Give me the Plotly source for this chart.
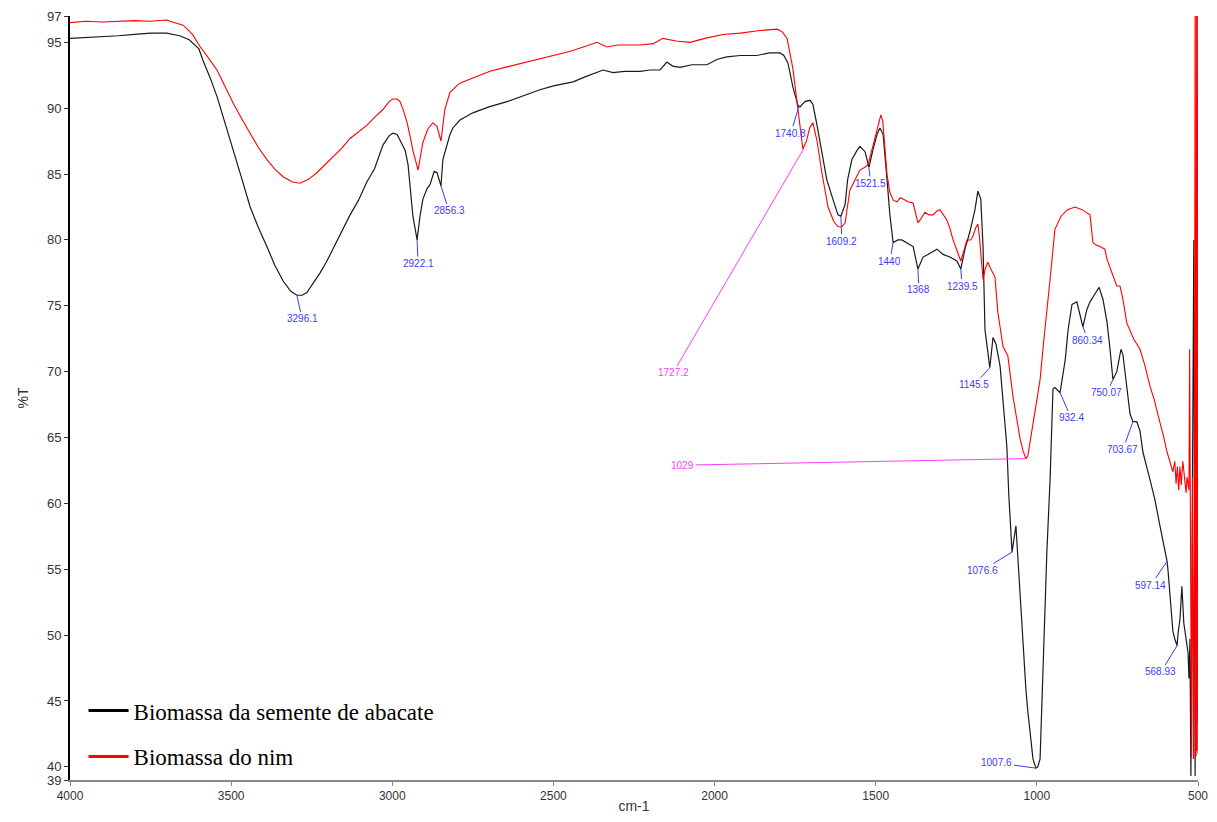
import plotly.graph_objects as go

# FTIR spectra: wavenumber (cm-1) and transmittance (%T)
abacate_wn = [4000, 3950, 3900, 3850, 3800, 3750, 3700, 3660, 3630, 3600, 3587, 3565, 3544, 3520,
              3494, 3470, 3441, 3415, 3389, 3365, 3339, 3315, 3296, 3280, 3265, 3245, 3224, 3205,
              3184, 3160, 3131, 3105, 3079, 3055, 3029, 3010, 2998, 2985, 2976, 2960, 2951, 2945,
              2936, 2923, 2914, 2905, 2892, 2883, 2870, 2861, 2852, 2849, 2843, 2830, 2821, 2812,
              2790, 2750, 2700, 2644, 2600, 2542, 2500, 2439, 2400, 2346, 2315, 2280, 2231, 2200,
              2169, 2148, 2130, 2107, 2070, 2024, 1993, 1962, 1920, 1869, 1830, 1797, 1785, 1772,
              1757, 1741, 1735, 1720, 1704, 1695, 1682, 1667, 1652, 1633, 1617, 1608, 1595, 1587,
              1574, 1558, 1549, 1533, 1521, 1509, 1496, 1487, 1477, 1465, 1456, 1446, 1431, 1419,
              1400, 1384, 1369, 1353, 1338, 1310, 1291, 1270, 1248, 1236, 1223, 1208, 1192, 1183,
              1174, 1167, 1161, 1155, 1146, 1136, 1127, 1114, 1102, 1093, 1087, 1077, 1065, 1059,
              1052, 1043, 1034, 1028, 1018, 1012, 1003, 997, 990, 984, 981, 975, 969, 959, 950, 944,
              928, 912, 903, 891, 876, 866, 857, 845, 835, 820, 807, 795, 782, 773, 764, 752, 739,
              733, 720, 711, 702, 690, 680, 671, 649, 634, 618, 606, 596, 593, 587, 578, 572, 565,
              562, 556, 550, 544, 537, 531, 528, 525, 522, 513, 509, 503, 500]
abacate_t = [95.3, 95.35, 95.4, 95.5, 95.6, 95.7, 95.7, 95.5, 95.2, 94.5, 93.6, 92.3, 90.9, 89.0,
             86.9, 84.9, 82.5, 80.9, 79.5, 78.1, 76.9, 76.1, 75.8, 75.8, 76.0, 76.7, 77.5, 78.3,
             79.3, 80.5, 81.9, 83.0, 84.4, 85.4, 87.2, 87.9, 88.1, 88.0, 87.6, 86.8, 85.7, 84.3,
             81.8, 80.0, 81.8, 83.1, 83.9, 84.2, 85.2, 85.1, 84.2, 84.1, 86.1, 87.2, 88.0, 88.5,
             89.1, 89.65, 90.1, 90.5, 90.9, 91.4, 91.7, 92.0, 92.4, 92.9, 92.7, 92.8, 92.8, 92.9,
             92.9, 93.5, 93.2, 93.1, 93.3, 93.3, 93.7, 93.9, 94.0, 94.0, 94.2, 94.2, 94.0, 93.4,
             91.6, 90.2, 90.1, 90.5, 90.6, 90.3, 88.7, 86.5, 84.6, 83.1, 81.9, 81.8, 82.7, 84.6,
             86.1, 86.8, 87.1, 86.7, 85.5, 86.8, 88.0, 88.5, 88.0, 84.6, 81.9, 79.8, 80.0, 80.0,
             79.7, 79.5, 77.8, 78.7, 78.9, 79.3, 78.9, 78.7, 78.4, 77.8, 79.3, 80.6, 82.3, 83.7,
             83.1, 79.5, 73.2, 72.1, 70.3, 72.6, 72.1, 70.4, 67.2, 64.3, 60.6, 56.3, 58.3, 55.8,
             52.5, 48.7, 45.9, 44.2, 42.2, 40.6, 39.9, 40.0, 40.6, 45.2, 48.7, 52.8, 56.3, 61.8, 68.7, 68.8,
             68.4, 70.9, 73.2, 75.1, 75.3, 74.3, 73.4, 74.7, 75.3, 75.9, 76.4, 75.5, 73.7, 71.7, 69.4, 70.0, 71.7,
             71.3, 68.7, 66.8, 66.2, 66.2, 65.5, 63.9, 61.8, 60.3, 58.3, 56.9, 55.6, 54.9, 53.0, 50.3, 49.7, 49.2,
             50.1, 51.2, 53.7, 50.9, 49.7, 48.7, 46.7, 49.7, 39.3, 80.0, 39.3, 81.0, 43.4]

nim_wn = [4000, 3950, 3900, 3850, 3800, 3752, 3700, 3690, 3649, 3620, 3597, 3570, 3544, 3520,
          3494, 3465, 3441, 3415, 3389, 3365, 3339, 3310, 3286, 3260, 3234, 3210, 3184, 3155,
          3131, 3105, 3079, 3055, 3029, 3010, 2998, 2985, 2976, 2965, 2954, 2945, 2936, 2920,
          2912, 2905, 2890, 2874, 2861, 2849, 2837, 2821, 2800, 2790, 2750, 2697, 2650, 2600,
          2542, 2500, 2450, 2400, 2365, 2334, 2300, 2231, 2190, 2160, 2120, 2076, 2030, 1974,
          1920, 1859, 1806, 1790, 1775, 1757, 1744, 1735, 1726, 1715, 1705, 1695, 1682, 1667,
          1648, 1630, 1617, 1605, 1595, 1580, 1565, 1549, 1535, 1524, 1509, 1495, 1484, 1478,
          1471, 1465, 1456, 1445, 1434, 1424, 1415, 1400, 1384, 1369, 1360, 1347, 1335, 1322,
          1310, 1301, 1290, 1279, 1270, 1260, 1248, 1236, 1225, 1217, 1205, 1198, 1190, 1183,
          1178, 1170, 1167, 1160, 1152, 1143, 1130, 1121, 1105, 1090, 1074, 1063, 1052, 1043,
          1034, 1028, 1015, 1003, 990, 980, 969, 959, 944, 925, 905, 882, 860, 835, 826, 815,
          804, 789, 782, 764, 752, 742, 733, 721, 700, 680, 665, 649, 635, 625, 618, 608, 596,
          585, 578, 572, 568, 564, 560, 556, 552, 547, 541, 537, 534, 531, 528, 526, 524, 522,
          520, 517, 514, 511, 509, 508, 507, 506, 505, 504, 503, 502, 501, 500]
nim_t = [96.5, 96.6, 96.55, 96.6, 96.65, 96.6, 96.7, 96.6, 96.3, 95.6, 94.7, 93.8, 92.9, 91.7,
         90.4, 89.1, 88.1, 87.0, 86.1, 85.4, 84.8, 84.4, 84.3, 84.6, 85.1, 85.7, 86.3, 87.0,
         87.7, 88.2, 88.7, 89.3, 89.9, 90.5, 90.7, 90.7, 90.5, 89.8, 88.9, 87.9, 86.8, 85.3,
         86.5, 87.4, 88.4, 88.9, 88.6, 87.5, 89.9, 91.2, 91.7, 91.9, 92.3, 92.8, 93.1, 93.4,
         93.7, 94.0, 94.3, 94.7, 95.0, 94.65, 94.8, 94.8, 94.9, 95.3, 95.1, 95.0, 95.3, 95.6,
         95.7, 95.9, 96.0, 95.8, 95.3, 93.0, 90.5, 88.4, 86.9, 87.5, 88.5, 88.9, 87.5, 85.1,
         82.5, 81.4, 81.0, 81.0, 81.3, 83.8, 84.5, 85.3, 85.5, 85.7, 87.1, 88.5, 89.5, 89.0,
         87.1, 85.0, 83.6, 83.0, 82.9, 83.2, 83.1, 82.9, 82.8, 81.3, 81.6, 82.1, 81.9, 81.9,
         82.2, 82.3, 81.9, 81.5, 80.9, 80.0, 79.2, 78.4, 79.3, 80.0, 80.0, 80.3, 80.9, 81.2,
         80.2, 77.8, 77.0, 77.8, 78.3, 77.8, 77.2, 74.5, 71.9, 71.2, 68.1, 66.5, 64.9, 64.0,
         63.4, 63.6, 65.6, 67.5, 69.4, 72.0, 74.5, 77.0, 80.8, 81.8, 82.3, 82.5, 82.3, 81.9, 79.8, 79.6,
         79.5, 79.3, 78.5, 77.2, 76.5, 76.5, 75.5, 73.7, 72.5, 71.7, 70.5, 68.9, 67.8, 66.8, 66.2, 65.2, 63.9,
         63.0, 62.4, 63.2, 61.5, 62.8, 61.0, 62.8, 61.4, 63.2, 61.8, 60.8, 62.0, 61.3, 61.0, 71.7, 60.5, 61.0,
         40.7, 62.0, 40.6, 60.0, 97.0, 41.0, 97.0, 40.8, 97.0, 41.2, 97.0, 41.5, 97.0, 41.0]

# peak labels: (peak wavenumber, peak %T, label wavenumber, label %T, text)
blue_labels = [
    (3296, 75.8, 3280, 74.0, "3296.1"),
    (2923, 80.0, 2920, 78.2, "2922.1"),
    (2849, 84.1, 2824, 82.2, "2856.3"),
    (1738, 90.2, 1763, 88.1, "1740.8"),
    (1608, 81.8, 1605, 79.9, "1609.2"),
    (1521, 85.5, 1516, 84.3, "1521.5"),
    (1446, 79.8, 1456, 78.4, "1440"),
    (1369, 77.8, 1366, 76.2, "1368"),
    (1236, 77.8, 1232, 76.5, "1239.5"),
    (1146, 70.3, 1195, 69.0, "1145.5"),
    (928, 68.4, 894, 66.5, "932.4"),
    (857, 73.4, 842, 72.4, "860.34"),
    (764, 69.4, 783, 68.4, "750.07"),
    (702, 66.2, 733, 64.1, "703.67"),
    (1077, 56.3, 1170, 54.9, "1076.6"),
    (596, 55.6, 646, 53.8, "597.14"),
    (565, 49.2, 615, 47.2, "568.93"),
    (1003, 39.9, 1124, 40.3, "1007.6"),
]
pink_labels = [
    (1724, 86.9, 2129, 69.9, "1727.2"),
    (1031, 63.4, 2098, 62.9, "1029"),
]

x_ticks = [4000, 3500, 3000, 2500, 2000, 1500, 1000, 500]
y_ticks = [39, 40, 45, 50, 55, 60, 65, 70, 75, 80, 85, 90, 95, 97]

fig = go.Figure()

fig.add_trace(go.Scatter(x=abacate_wn, y=abacate_t, mode='lines',
                         line=dict(color='#1a1a1a', width=1.2), showlegend=False))
fig.add_trace(go.Scatter(x=nim_wn, y=nim_t, mode='lines',
                         line=dict(color='#ff0000', width=1.1), showlegend=False))

# legend entries (thicker lines, like the original)
fig.add_trace(go.Scatter(x=[None], y=[None], mode='lines', name='Biomassa da semente de abacate',
                         legendgroup='a', line=dict(color='black', width=3)))
fig.add_trace(go.Scatter(x=[None], y=[None], mode='lines', name='Biomassa do nim',
                         legendgroup='b', line=dict(color='#ff0000', width=3)))

for labels, colour in [(blue_labels, '#3b3bff'), (pink_labels, '#ff3cff')]:
    for px_, py_, lx, ly, txt in labels:
        fig.add_annotation(x=px_, y=py_, ax=lx, ay=ly, axref='x', ayref='y',
                           text=txt, showarrow=True, arrowhead=0, arrowwidth=1,
                           arrowcolor=colour, standoff=0,
                           font=dict(family='Arial, Liberation Sans', size=10, color=colour))

# page body has an 8px margin, so the figure is sized to fit inside the window
fig.update_layout(
    width=1201,
    height=806,
    margin=dict(l=62, r=11, t=8, b=34),
    plot_bgcolor='white',
    paper_bgcolor='white',
    font=dict(family='Arial, Liberation Sans', color='#333'),
    legend=dict(x=0.012, y=0.119, xanchor='left', yanchor='top', itemwidth=40,
                font=dict(family='Liberation Serif, Times New Roman', size=23, color='black'),
                bgcolor='rgba(0,0,0,0)', tracegroupgap=13),
    xaxis=dict(range=[4000, 500], tickvals=x_ticks, showgrid=False, zeroline=False,
               automargin=False,
               showline=True, linecolor='#888', linewidth=2, ticks='outside', ticklen=4,
               tickcolor='#888', tickfont=dict(size=12, color='#333'),
               title=dict(text='cm-1', font=dict(size=14, color='#333'))),
    yaxis=dict(range=[39, 97], tickvals=y_ticks, showgrid=False, zeroline=False,
               automargin=False,
               showline=True, linecolor='black', linewidth=2, ticks='outside', ticklen=4,
               tickcolor='#333', tickfont=dict(size=13, color='#333'),
               title=dict(text='%T', font=dict(size=14, color='#333'))),
)

fig.write_html("out.html")
